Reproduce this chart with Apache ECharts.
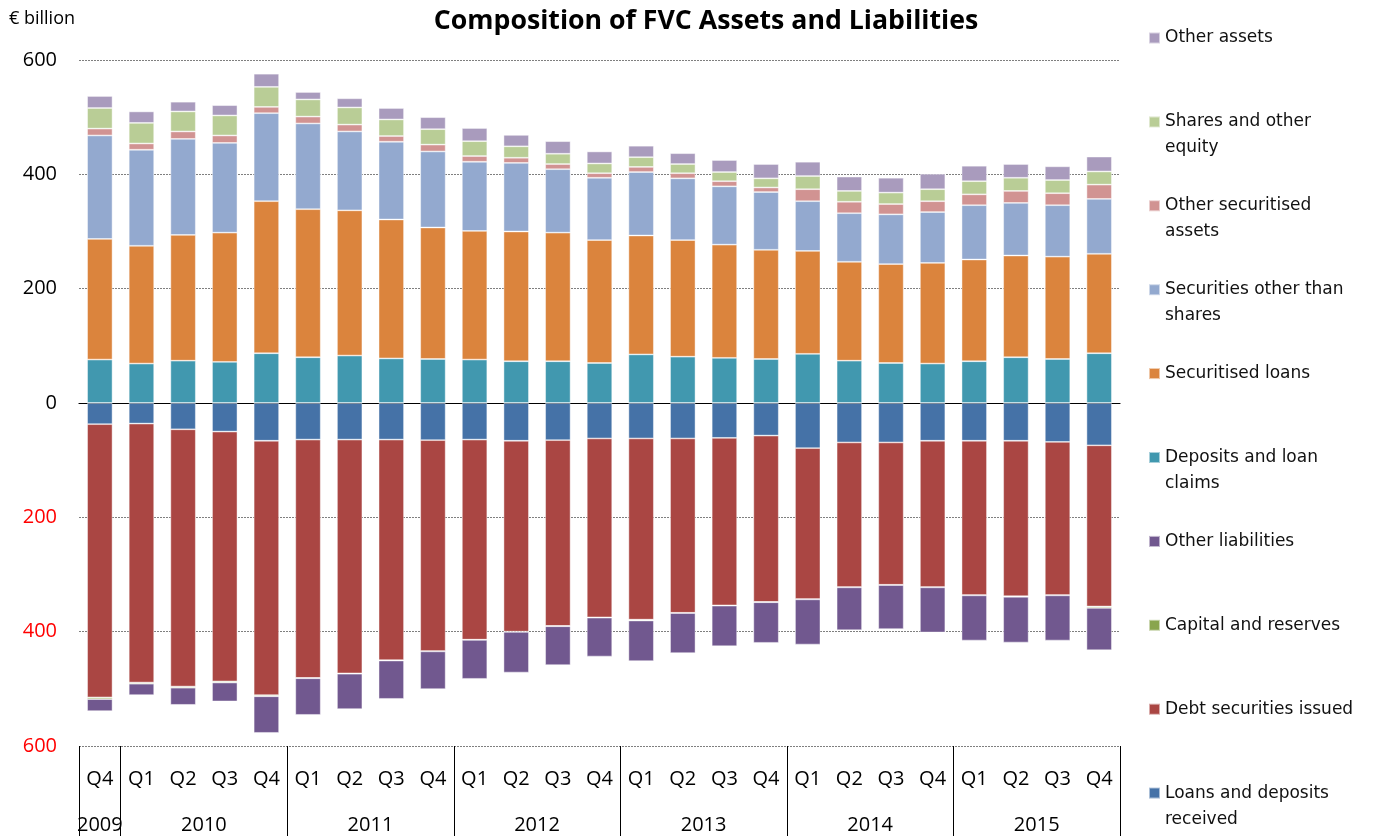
<!DOCTYPE html>
<html><head><meta charset="utf-8">
<script src="https://cdn.jsdelivr.net/npm/echarts@6/dist/echarts.min.js"></script>
<style>html,body{margin:0;padding:0;background:#fff}#c{width:1373px;height:836px}</style>
</head><body><div id="c"></div>
<script>
// ---- categories ----
const quarters = ['Q4','Q1','Q2','Q3','Q4','Q1','Q2','Q3','Q4','Q1','Q2','Q3','Q4','Q1','Q2','Q3','Q4','Q1','Q2','Q3','Q4','Q1','Q2','Q3','Q4'];
const years = ['2009','2010','2010','2010','2010','2011','2011','2011','2011','2012','2012','2012','2012','2013','2013','2013','2013','2014','2014','2014','2014','2015','2015','2015','2015'];
const yTicks = [-600,-400,-200,0,200,400,600];

// ---- assets (€ billion) ----
const depositsLoanClaims = [76,69,74,72,87,80,83,78,77,76,73,73,70,85,81,79,77,86,74,70,69,73,80,77,87];
const securitisedLoans   = [211,206,220,226,266,259,254,243,230,225,227,225,215,208,204,198,191,180,173,173,176,178,178,179,174];
const securitiesOther    = [181,168,168,157,154,150,138,136,133,121,120,111,109,111,108,102,101,87,85,87,89,95,92,90,96];
const otherSecuritised   = [12,11,13,13,11,12,12,10,12,10,9,9,8,9,9,9,8,21,20,18,19,19,21,21,25];
const sharesEquity       = [36,36,35,35,35,30,30,29,27,26,20,18,17,17,16,16,16,23,19,20,21,23,23,23,23];
const otherAssets        = [21,20,17,18,23,13,16,20,21,23,20,22,21,20,19,21,25,25,25,26,27,27,24,24,26];

// ---- liabilities (€ billion, negative) ----
const loansReceived    = [-37,-36,-46,-50,-66,-64,-64,-64,-65,-64,-66,-65,-62,-62,-62,-61,-57,-79,-69,-69,-66,-66,-66,-68,-74];
const debtSecurities   = [-478,-453,-450,-437,-445,-417,-409,-386,-369,-350,-334,-325,-313,-317,-305,-293,-291,-264,-253,-249,-256,-270,-272,-268,-282];
const capitalReserves  = [-3,-2,-2,-2,-2,-0.5,-0.5,-0.5,-0.5,-0.5,-0.5,-0.5,-0.5,-1.5,-0.5,-0.5,-0.5,-0.5,-0.5,-0.5,-0.5,-0.5,-1,-0.5,-2.5];
const otherLiabilities = [-21,-20,-30,-33,-64,-64,-62,-67,-66,-68,-71,-68,-68,-71,-70,-71,-71,-79,-75,-77,-79,-79,-80,-79,-74];

const seriesDefs = [
  {name:'Loans and deposits received', data:loansReceived, color:'#4572A7'},
  {name:'Debt securities issued', data:debtSecurities, color:'#AA4643'},
  {name:'Capital and reserves', data:capitalReserves, color:'#89A54E'},
  {name:'Other liabilities', data:otherLiabilities, color:'#71588F'},
  {name:'Deposits and loan claims', data:depositsLoanClaims, color:'#4198AF'},
  {name:'Securitised loans', data:securitisedLoans, color:'#DB843D'},
  {name:'Securities other than shares', data:securitiesOther, color:'#93A9CF'},
  {name:'Other securitised assets', data:otherSecuritised, color:'#D19392'},
  {name:'Shares and other equity', data:sharesEquity, color:'#B9CD96'},
  {name:'Other assets', data:otherAssets, color:'#A99BBD'}
];

const legendOrder = [
  ['Other assets','Other assets'],
  ['Shares and other equity','Shares and other\nequity'],
  ['Other securitised assets','Other securitised\nassets'],
  ['Securities other than shares','Securities other than\nshares'],
  ['Securitised loans','Securitised loans'],
  ['Deposits and loan claims','Deposits and loan\nclaims'],
  ['Other liabilities','Other liabilities'],
  ['Capital and reserves','Capital and reserves'],
  ['Debt securities issued','Debt securities issued'],
  ['Loans and deposits received','Loans and deposits\nreceived']
];

const categories = quarters.map((q,i)=>years[i]+' '+q);

// year label positions (centre of each year's span, in quarter units)
const yearPos = {};
let s = 0;
while (s < years.length) {
  let e = s;
  while (e < years.length && years[e] === years[s]) e++;
  yearPos[String(s + (e - s) / 2)] = years[s];
  s = e;
}

const LH = 26;
const legends = legendOrder.map(([name,label],i)=>{
  const two = label.indexOf('\n') >= 0;
  const c = 38 + i*83.9;
  const text = two ? ' \n' + label : label;
  return {
    show:true, orient:'vertical', left:1148, top: two ? c - 1.5*LH : c - 0.5*LH,
    padding:0, itemWidth:11, itemHeight:11, itemGap:0, icon:'rect', selectedMode:false,
    data:[name], formatter:()=>text,
    textStyle:{fontFamily:'DejaVu Sans', fontSize:17, color:'#111', lineHeight:LH}
  };
});

const chart = echarts.init(document.getElementById('c'));
chart.setOption({
  animation:false,
  backgroundColor:'#fff',
  title:[
    {text:'Composition of FVC Assets and Liabilities', left:701, top:3, textAlign:'center',
     textStyle:{fontFamily:'Open Sans', fontWeight:'bold', fontSize:26.7, color:'#000'}},
    {text:'€ billion', left:4, top:5, textStyle:{fontFamily:'Open Sans', fontWeight:'normal', fontSize:18, color:'#000'}}
  ],
  legend:legends,
  grid:{left:79, right:253, top:60, bottom:90, containLabel:false},
  xAxis:[
    {type:'category', data:categories, gridIndex:0, position:'bottom',
     axisLine:{show:true, onZero:true, lineStyle:{color:'#000', width:1.2}},
     axisTick:{show:false}, axisLabel:{show:false}, splitLine:{show:false}},
    {type:'category', data:categories, gridIndex:0, position:'bottom',
     axisLine:{show:false, onZero:false},
     axisTick:{show:true, length:92, lineStyle:{color:'#000', width:1},
       interval:(idx)=> idx === 0 || quarters[idx] === 'Q1'},
     axisLabel:{show:true, interval:0, margin:23, formatter:(v,idx)=>quarters[idx],
       fontFamily:'Open Sans', fontSize:20, color:'#000'},
     splitLine:{show:false}},
    {type:'value', min:0, max:quarters.length, interval:0.5, gridIndex:0, position:'bottom',
     axisLine:{show:false, onZero:false}, axisTick:{show:false}, splitLine:{show:false},
     axisLabel:{show:true, margin:69, formatter:(v)=>yearPos[String(v)] || '',
       fontFamily:'Open Sans', fontSize:20, color:'#000', showMinLabel:true, showMaxLabel:true}}
  ],
  yAxis:{type:'value', min:yTicks[0], max:yTicks[yTicks.length-1], interval:200,
    axisLine:{show:false}, axisTick:{show:false},
    splitLine:{show:true, lineStyle:{color:'#7f7f7f', type:[2,1], width:1}},
    axisLabel:{margin:22, fontFamily:'Open Sans', fontSize:20,
      formatter:(v)=>String(Math.abs(v)),
      color:(v)=> Number(v) < 0 ? '#FF0000' : '#000'}},
  series: seriesDefs.map(d=>({
    name:d.name, type:'bar', stack:'total', stackStrategy:'samesign',
    xAxisIndex:0, yAxisIndex:0, barWidth:'61%',
    data:d.data,
    itemStyle:{color:d.color, borderColor:'rgba(255,255,255,0.55)', borderWidth:0.8}
  }))
});
</script></body></html>
